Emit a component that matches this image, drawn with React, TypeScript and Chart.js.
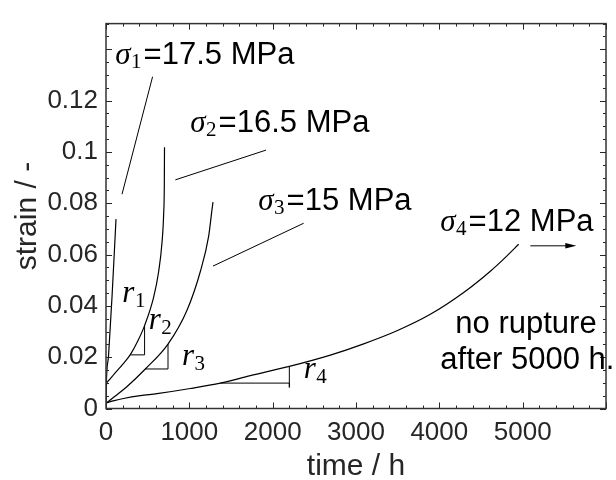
import React, { useEffect, useRef } from "react";
import { Chart, registerables } from "chart.js";

Chart.register(...registerables);

// ---- creep curves: time (h) and strain (-) ----
const time1 = [0, 4, 31, 72, 100, 120];
const strain1 = [0.002, 0.0095, 0.0208, 0.0434, 0.0609, 0.0738];

const time2 = [0, 2, 20, 100, 200, 292, 380, 463, 572, 632, 672, 692, 700, 702];
const strain2 = [0.003, 0.008, 0.0105, 0.0135, 0.0172, 0.021, 0.0262, 0.0323, 0.0434, 0.0534, 0.0647, 0.076, 0.088, 0.1018];

const time3 = [0, 100, 250, 472, 744, 972, 1132, 1232, 1272, 1284];
const strain3 = [0.002, 0.0046, 0.0085, 0.0154, 0.0251, 0.0383, 0.0534, 0.0672, 0.0775, 0.0804];

const time4 = [0, 100, 211, 412, 612, 1012, 1372, 1732, 2200, 2692, 3092, 3492, 3892, 4292, 4612, 4812, 4952];
const strain4 = [0.0022, 0.0031, 0.0039, 0.005, 0.0058, 0.0078, 0.0099, 0.0128, 0.0164, 0.0208, 0.0252, 0.0303, 0.0367, 0.0452, 0.0535, 0.0595, 0.064];

// ---- slope triangles (r2, r3, r4) ----
const triR2Time = [292, 463, 463];
const triR2Strain = [0.0209, 0.0209, 0.0322];
const triR3Time = [472, 744, 744];
const triR3Strain = [0.0154, 0.0154, 0.0251];
const triR4Time = [1372, 2200, 2200, 2200];
const triR4Strain = [0.0099, 0.0099, 0.0082, 0.0164];

// ---- leader lines next to the stress labels ----
const lead1Time = [192, 559];
const lead1Strain = [0.0835, 0.1293];
const lead2Time = [832, 1920];
const lead2Strain = [0.0891, 0.1007];
const lead3Time = [1284, 2372];
const lead3Strain = [0.0555, 0.0722];

// ---- ticks ----
const xTickValues = [0, 1000, 2000, 3000, 4000, 5000];
const yTickValues = [0, 0.02, 0.04, 0.06, 0.08, 0.1, 0.12];

// ---- annotation texts (anchored in data units) ----
const stressLabels = [
  { sub: "1", text: "=17.5 MPa", t: 112, s: 0.1342 },
  { sub: "2", text: "=16.5 MPa", t: 1012, s: 0.1078 },
  { sub: "3", text: "=15 MPa", t: 1828, s: 0.0774 },
  { sub: "4", text: "=12 MPa", t: 4012, s: 0.0691 },
];
const rateLabels = [
  { sub: "1", t: 196, s: 0.0415 },
  { sub: "2", t: 512, s: 0.0308 },
  { sub: "3", t: 912, s: 0.017 },
  { sub: "4", t: 2372, s: 0.012 },
];
const noteLines = [
  { text: "no rupture", t: 4192, s: 0.02955 },
  { text: "after 5000 h.", t: 4012, s: 0.01524 },
];
const arrowTime = [5092, 5644];
const arrowStrain = 0.0634;

const SANS = "'Liberation Sans', Arial, Helvetica, sans-serif";
const SERIF = "'Liberation Serif', 'Times New Roman', serif";
const AXIS_COLOR = "#262626";

const pts = (xs: number[], ys: number[]) => xs.map((x, i) => ({ x, y: ys[i] }));

const curve = (xs: number[], ys: number[]) => ({
  data: pts(xs, ys),
  showLine: true,
  borderColor: "#000",
  borderWidth: 1.2,
  pointRadius: 0,
  fill: false,
  cubicInterpolationMode: "monotone" as const,
});
const straight = (xs: number[], ys: number[]) => ({
  data: pts(xs, ys),
  showLine: true,
  borderColor: "#000",
  borderWidth: 1,
  pointRadius: 0,
  fill: false,
  tension: 0,
});

const decorPlugin = {
  id: "decor",
  afterDatasetsDraw(chart: any) {
    const { ctx, chartArea: a, scales } = chart;
    const xs = scales.x;
    const ys = scales.y;
    ctx.save();

    // inward ticks on all four sides
    ctx.strokeStyle = AXIS_COLOR;
    ctx.lineWidth = 1;
    ctx.beginPath();
    for (let v = 0; v <= 6000 + 1e-6; v += 200) {
      const major = Math.abs(v / 1000 - Math.round(v / 1000)) < 1e-6;
      const len = major ? 6 : 3;
      const px = Math.round(xs.getPixelForValue(v)) + 0.5;
      ctx.moveTo(px, a.bottom);
      ctx.lineTo(px, a.bottom - len);
      ctx.moveTo(px, a.top);
      ctx.lineTo(px, a.top + len);
    }
    for (let k = 0; k <= 30; k++) {
      const v = k * 0.005;
      const major = k % 4 === 0;
      const len = major ? 6 : 3;
      const py = Math.round(ys.getPixelForValue(v)) + 0.5;
      ctx.moveTo(a.left, py);
      ctx.lineTo(a.left + len, py);
      ctx.moveTo(a.right, py);
      ctx.lineTo(a.right - len, py);
    }
    ctx.stroke();

    // box
    ctx.lineWidth = 1.5;
    ctx.strokeStyle = "#333";
    ctx.strokeRect(a.left, a.top, a.right - a.left, a.bottom - a.top);

    // math-style labels
    ctx.fillStyle = "#000";
    ctx.textAlign = "left";
    ctx.textBaseline = "alphabetic";
    const drawSym = (sym: string, sub: string, px: number, py: number, drop: number) => {
      ctx.font = `italic 31px ${SERIF}`;
      ctx.fillText(sym, px, py);
      const w = ctx.measureText(sym).width;
      ctx.font = `21px ${SERIF}`;
      ctx.fillText(sub, px + w + 0.5, py + drop);
      return px + w + 0.5 + ctx.measureText(sub).width;
    };
    stressLabels.forEach((l) => {
      const px = xs.getPixelForValue(l.t);
      const py = ys.getPixelForValue(l.s);
      const end = drawSym("σ", l.sub, px, py, 4);
      ctx.font = `31px ${SANS}`;
      ctx.fillText(l.text, end + 2, py);
    });
    rateLabels.forEach((l) => {
      drawSym("r", l.sub, xs.getPixelForValue(l.t), ys.getPixelForValue(l.s), 5);
    });
    ctx.font = `31px ${SANS}`;
    noteLines.forEach((l) => {
      ctx.fillText(l.text, xs.getPixelForValue(l.t), ys.getPixelForValue(l.s));
    });

    // arrow
    const ax0 = xs.getPixelForValue(arrowTime[0]);
    const ax1 = xs.getPixelForValue(arrowTime[1]);
    const ay = ys.getPixelForValue(arrowStrain);
    ctx.strokeStyle = "#000";
    ctx.lineWidth = 1;
    ctx.beginPath();
    ctx.moveTo(ax0, ay);
    ctx.lineTo(ax1 - 8, ay);
    ctx.stroke();
    ctx.beginPath();
    ctx.moveTo(ax1, ay);
    ctx.lineTo(ax1 - 11, ay - 2.8);
    ctx.lineTo(ax1 - 11, ay + 2.8);
    ctx.closePath();
    ctx.fill();

    ctx.restore();
  },
};

export default function App() {
  const ref = useRef<HTMLCanvasElement | null>(null);

  useEffect(() => {
    if (!ref.current) return;
    const chart = new Chart(ref.current, {
      type: "scatter",
      data: {
        datasets: [
          curve(time1, strain1),
          curve(time2, strain2),
          curve(time3, strain3),
          curve(time4, strain4),
          straight(triR2Time, triR2Strain),
          straight(triR3Time, triR3Strain),
          straight(triR4Time, triR4Strain),
          straight(lead1Time, lead1Strain),
          straight(lead2Time, lead2Strain),
          straight(lead3Time, lead3Strain),
        ] as any,
      },
      options: {
        responsive: false,
        devicePixelRatio: 1,
        animation: false,
        layout: { padding: { top: 10, right: 10, left: 0, bottom: 0 } },
        plugins: { legend: { display: false }, tooltip: { enabled: false } },
        scales: {
          x: {
            type: "linear",
            min: 0,
            max: 6000,
            afterBuildTicks: (s: any) => {
              s.ticks = xTickValues.map((v) => ({ value: v }));
            },
            afterFit: (s: any) => {
              s.height = 71.5;
            },
            grid: { display: false, drawTicks: false },
            border: { display: false },
            ticks: {
              color: AXIS_COLOR,
              font: { family: SANS, size: 26 },
              padding: 8.5,
              maxRotation: 0,
              autoSkip: false,
              callback: (v: any) => String(v),
            },
            title: {
              display: true,
              text: "time / h",
              color: AXIS_COLOR,
              font: { family: SANS, size: 30, lineHeight: 0.9 },
              padding: { top: 0, bottom: 0 },
            },
          },
          y: {
            type: "linear",
            min: 0,
            max: 0.15,
            afterBuildTicks: (s: any) => {
              s.ticks = yTickValues.map((v) => ({ value: v }));
            },
            afterFit: (s: any) => {
              s.width = 106;
            },
            grid: { display: false, drawTicks: false },
            border: { display: false },
            ticks: {
              color: AXIS_COLOR,
              font: { family: SANS, size: 26 },
              padding: 8,
              autoSkip: false,
              callback: (v: any) => String(v),
            },
            title: {
              display: true,
              text: "strain / -",
              color: AXIS_COLOR,
              font: { family: SANS, size: 30, lineHeight: 0.9 },
              padding: { top: 14.4, bottom: 0 },
            },
          },
        },
      },
      plugins: [decorPlugin],
    });
    return () => chart.destroy();
  }, []);

  return (
    <div style={{ position: "fixed", left: 0, top: 0, width: 616, height: 480, background: "#fff" }}>
      <canvas ref={ref} width={616} height={480} style={{ display: "block" }} />
    </div>
  );
}
